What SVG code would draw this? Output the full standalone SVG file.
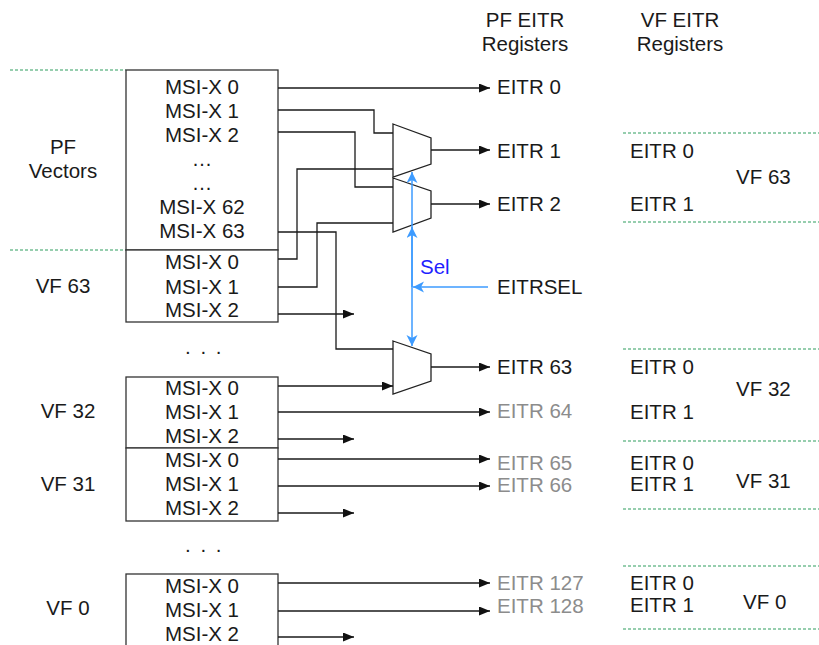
<svg xmlns="http://www.w3.org/2000/svg" width="819" height="645" viewBox="0 0 819 645">
<style>
text{font-family:"Liberation Sans",Arial,sans-serif;font-size:20.5px;fill:#1a1a1a}
.c{text-anchor:middle}
.g{fill:#8c8c8c}
.box{fill:#fff;stroke:#333;stroke-width:1.3}
.mux{fill:#fff;stroke:#222;stroke-width:1.3}
.ln{fill:none;stroke:#1a1a1a;stroke-width:1.3}
.bl{fill:none;stroke:#3d9bff;stroke-width:1.5}
.dash{fill:none;stroke:#2e9e5e;stroke-width:1.2;stroke-dasharray:3 2}
</style>
<defs>
<marker id="ah" markerUnits="userSpaceOnUse" markerWidth="12" markerHeight="10" refX="11" refY="4.5" orient="auto"><path d="M0,0 L11,4.5 L0,9 z" fill="#111"/></marker>
<marker id="bh" markerUnits="userSpaceOnUse" markerWidth="12" markerHeight="12" refX="11" refY="5.5" orient="auto"><path d="M0,0 L11,5.5 L0,11 L3,5.5 z" fill="#3d9bff"/></marker>
</defs>

<g id="headers">
<text class="c" x="525" y="27">PF EITR</text>
<text class="c" x="525" y="51">Registers</text>
<text class="c" x="680" y="27">VF EITR</text>
<text class="c" x="680" y="51">Registers</text>
</g>

<g id="separators">
<path class="dash" d="M10,70 H126 M10,250 H126"/>
<path class="dash" d="M623,133 H819 M623,222 H819 M623,349 H819 M623,441 H819 M623,509 H819 M623,566 H819 M623,629 H819"/>
</g>

<g id="pf-vectors">
<rect class="box" x="126" y="70" width="152" height="180"/>
<text class="c" x="63" y="154">PF</text>
<text class="c" x="63" y="178">Vectors</text>
<text class="c" x="202" y="94">MSI-X 0</text>
<text class="c" x="202" y="118">MSI-X 1</text>
<text class="c" x="202" y="142">MSI-X 2</text>
<text class="c" x="202" y="166">…</text>
<text class="c" x="202" y="190">…</text>
<text class="c" x="202" y="214">MSI-X 62</text>
<text class="c" x="202" y="238">MSI-X 63</text>
</g>

<g id="vf63-vectors">
<rect class="box" x="126" y="250" width="152" height="72"/>
<text class="c" x="63" y="293">VF 63</text>
<text class="c" x="202" y="269">MSI-X 0</text>
<text class="c" x="202" y="294">MSI-X 1</text>
<text class="c" x="202" y="317">MSI-X 2</text>
</g>

<g id="ellipsis1"><text x="185" y="354" letter-spacing="2">. . .</text></g>

<g id="vf32-vectors">
<rect class="box" x="126" y="377" width="152" height="71"/>
<text class="c" x="68" y="418">VF 32</text>
<text class="c" x="202" y="395">MSI-X 0</text>
<text class="c" x="202" y="419">MSI-X 1</text>
<text class="c" x="202" y="443">MSI-X 2</text>
</g>

<g id="vf31-vectors">
<rect class="box" x="126" y="448" width="152" height="73"/>
<text class="c" x="68" y="491">VF 31</text>
<text class="c" x="202" y="467">MSI-X 0</text>
<text class="c" x="202" y="491">MSI-X 1</text>
<text class="c" x="202" y="515">MSI-X 2</text>
</g>

<g id="ellipsis2"><text x="185" y="552" letter-spacing="2">. . .</text></g>

<g id="vf0-vectors">
<rect class="box" x="126" y="574" width="152" height="80"/>
<text class="c" x="68" y="615">VF 0</text>
<text class="c" x="202" y="593">MSI-X 0</text>
<text class="c" x="202" y="617">MSI-X 1</text>
<text class="c" x="202" y="641">MSI-X 2</text>
</g>

<g id="mux1"><polygon class="mux" points="393,124 431,138 431,164 393,177"/></g>
<g id="mux2"><polygon class="mux" points="393,178 431,191 431,218 393,232"/></g>
<g id="mux3"><polygon class="mux" points="393,341 431,354 431,381 393,394"/></g>

<g id="pf-eitr">
<text x="497" y="94">EITR 0</text>
<text x="497" y="158">EITR 1</text>
<text x="497" y="211">EITR 2</text>
<text x="497" y="294">EITRSEL</text>
<text x="497" y="374">EITR 63</text>
<text class="g" x="497" y="418">EITR 64</text>
<text class="g" x="497" y="470">EITR 65</text>
<text class="g" x="497" y="492">EITR 66</text>
<text class="g" x="497" y="590">EITR 127</text>
<text class="g" x="497" y="613">EITR 128</text>
<text x="420" y="274" style="fill:#1f1fff">Sel</text>
</g>

<g id="vf63-eitr">
<text x="630" y="158">EITR 0</text>
<text x="630" y="211">EITR 1</text>
<text x="736" y="184">VF 63</text>
</g>
<g id="vf32-eitr">
<text x="630" y="374">EITR 0</text>
<text x="630" y="419">EITR 1</text>
<text x="736" y="396">VF 32</text>
</g>
<g id="vf31-eitr">
<text x="630" y="470">EITR 0</text>
<text x="630" y="491">EITR 1</text>
<text x="736" y="488">VF 31</text>
</g>
<g id="vf0-eitr">
<text x="630" y="590">EITR 0</text>
<text x="630" y="612">EITR 1</text>
<text x="743" y="609">VF 0</text>
</g>

<g id="connectors">
<path class="ln" d="M278,88 H490" marker-end="url(#ah)"/>
<path class="ln" d="M278,110 H374 V133 H393"/>
<path class="ln" d="M278,132 H355 V187 H393"/>
<path class="ln" d="M278,232 H336 V349 H393"/>
<path class="ln" d="M278,259 H297 V169 H393"/>
<path class="ln" d="M278,287 H317 V223 H393"/>
<path class="ln" d="M278,314 H354" marker-end="url(#ah)"/>
<path class="ln" d="M431,150 H490" marker-end="url(#ah)"/>
<path class="ln" d="M431,204 H490" marker-end="url(#ah)"/>
<path class="ln" d="M431,367 H490" marker-end="url(#ah)"/>
<path class="ln" d="M278,386 H393" marker-end="url(#ah)"/>
<path class="ln" d="M278,412 H490" marker-end="url(#ah)"/>
<path class="ln" d="M278,439 H354" marker-end="url(#ah)"/>
<path class="ln" d="M278,459 H490" marker-end="url(#ah)"/>
<path class="ln" d="M278,486 H490" marker-end="url(#ah)"/>
<path class="ln" d="M278,513 H354" marker-end="url(#ah)"/>
<path class="ln" d="M278,583 H490" marker-end="url(#ah)"/>
<path class="ln" d="M278,611 H490" marker-end="url(#ah)"/>
<path class="ln" d="M278,637 H354" marker-end="url(#ah)"/>
<path class="bl" d="M412,287 V172" marker-end="url(#bh)"/>
<path class="bl" d="M412,287 V227" marker-end="url(#bh)"/>
<path class="bl" d="M412,287 V346" marker-end="url(#bh)"/>
<path class="bl" d="M488,287 H413" marker-end="url(#bh)"/>
</g>
</svg>
